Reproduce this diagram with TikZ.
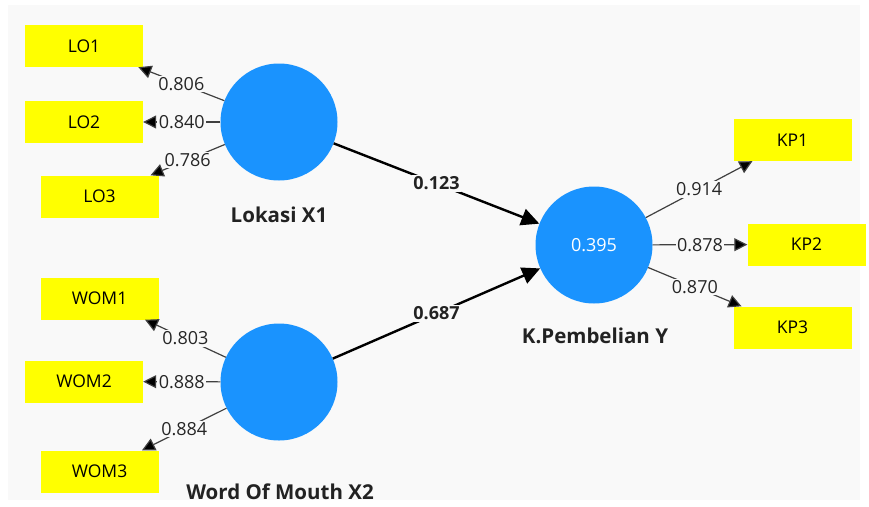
\documentclass[tikz,border=0pt]{standalone}
\usepackage{fontspec}
\setmainfont{Open Sans}
\usetikzlibrary{arrows.meta}
\definecolor{panel}{HTML}{F9F9F9}
\definecolor{konstruk}{HTML}{1A93FE}
\definecolor{kuning}{HTML}{FFFF00}
\definecolor{teks}{HTML}{222222}
\tikzstyle{latent}=[circle, fill=konstruk, minimum size=117pt, inner sep=0pt, text=white, font=\fontsize{18}{20}\selectfont]
\tikzstyle{indikator}=[rectangle, fill=kuning, minimum width=118pt, minimum height=42pt, font=\fontsize{17.5}{20}\selectfont]
\tikzstyle{muatan}=[draw=black!75, line width=1.2pt, -{Triangle[length=13pt,width=13pt,fill=black]}]
\tikzstyle{jalur}=[draw=black, line width=2.4pt, -{Triangle[length=18pt,width=17pt]}]
\tikzstyle{nilai}=[fill=panel, inner sep=1.5pt, text=black!85, font=\fontsize{18}{20}\selectfont]
\tikzstyle{nama}=[text=teks, font=\fontsize{20.5}{22}\selectfont\bfseries]

\begin{document}
\begin{tikzpicture}[x=1pt, y=-1pt]
        \useasboundingbox (0,0) rectangle (869,506);
        \fill[panel] (8,5) rectangle (860,500);

        % Konstruk laten
        \node[latent] (X1) at (279,122) {};
        \node[latent] (X2) at (279,382) {};
        \node[latent] (Y) at (594,245) {0.395};

        \node[nama] (nX1) at (279,215) {Lokasi X1};
        \node[nama] (nX2) at (280,492) {Word Of Mouth X2};
        \node[nama] (nY) at (595,336) {K.Pembelian Y};

        % Indikator
        \foreach \n/\x/\y in {LO1/84/46, LO2/84/122, LO3/99.5/196.5,
                              WOM1/99.5/298.5, WOM2/84/381.5, WOM3/99.5/471.5,
                              KP1/792.5/140, KP2/806.5/244.5, KP3/792.5/327.5}{
            \node[indikator] (\n) at (\x,\y) {\n};
        }

        % Outer loading
        \foreach \a/\b/\lam in {X1/LO1/0.806, X1/LO2/0.840, X1/LO3/0.786,
                                X2/WOM1/0.803, X2/WOM2/0.888, X2/WOM3/0.884,
                                Y/KP1/0.914, Y/KP2/0.878, Y/KP3/0.870}{
            \draw[muatan] (\a) -- node[nilai] {\lam} (\b);
        }

        % Koefisien jalur
        \draw[jalur] (X1) -- node[nilai, font=\fontsize{18}{20}\selectfont\bfseries, text=teks] {0.123} (Y);
        \draw[jalur] (X2) -- node[nilai, font=\fontsize{18}{20}\selectfont\bfseries, text=teks] {0.687} (Y);
    \end{tikzpicture}
\end{document}
